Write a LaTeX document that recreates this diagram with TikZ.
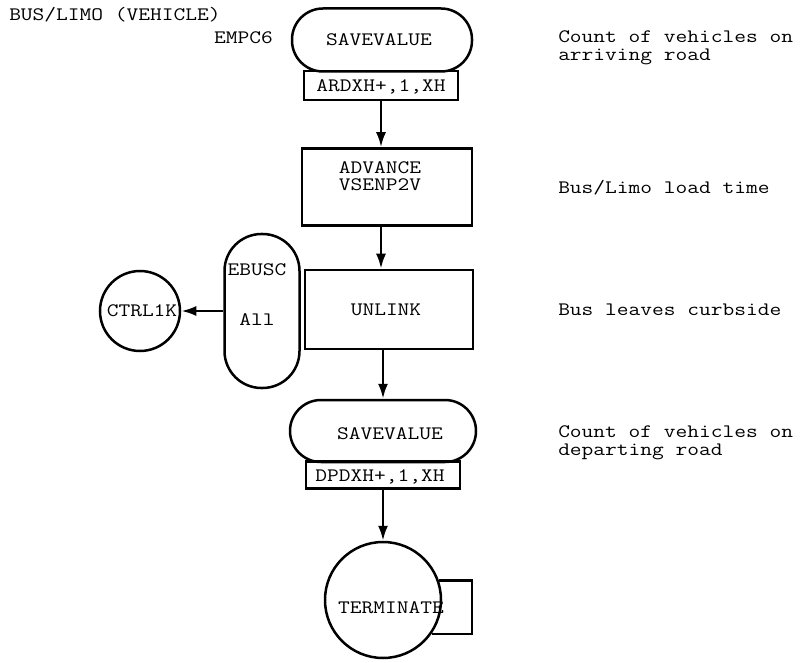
\documentclass[tikz,border=0pt]{standalone}
\usepackage{fontspec}
\usepackage{graphicx}
\usetikzlibrary{arrows.meta}
\newcommand\tw[1]{\scalebox{1.2}[1]{#1}}
\begin{document}
\begin{tikzpicture}[x=1pt,y=-1pt,
  line width=2.5pt,
  every node/.style={font=\fontsize{19}{15}\selectfont\ttfamily\addfontfeatures{FakeBold=1.2}, inner sep=0pt},
  stad/.style={draw, rounded corners=#1},
  boxn/.style={draw},
  txt/.style={anchor=base},
  lbl/.style={anchor=base west},
  arr/.style={-{Latex[length=15pt,width=10pt]}}]
\useasboundingbox (0,0) rectangle (804,663);

% header
\node[lbl] (title) at (8,21) {\tw{BUS/LIMO (VEHICLE)}};
\node[anchor=base east] (empc) at (274,44) {\tw{EMPC6}};

% top savevalue
\node[stad=31pt, minimum width=180pt, minimum height=63pt] (sv1) at (382,40) {};
\node[txt] (sv1t) at (379,46) {\tw{SAVEVALUE}};
\node[boxn, minimum width=154pt, minimum height=29pt] (ard) at (381,85.5) {};
\node[txt] (ardt) at (381,92) {\tw{ARDXH+,1,XH}};

% advance
\node[boxn, minimum width=170pt, minimum height=77pt] (adv) at (387,187) {};
\node[txt] (advt1) at (380,174) {\tw{ADVANCE}};
\node[txt] (advt2) at (380,191) {\tw{VSENP2V}};

% unlink
\node[boxn, minimum width=168pt, minimum height=79pt] (unl) at (389,309.5) {};
\node[txt] (unlt) at (386,316) {\tw{UNLINK}};

% EBUSC
\node[stad=37pt, minimum width=75pt, minimum height=154pt] (ebu) at (262,311) {};
\node[txt] (ebut1) at (257,276) {\tw{EBUSC}};
\node[txt] (ebut2) at (257,326) {\tw{All}};

% CTRL1K
\node[circle, draw, minimum size=80pt] (ctrl) at (140,311) {};
\node[txt] (ctrlt) at (142,317) {\tw{CTRL1K}};

% bottom savevalue
\node[stad=31pt, minimum width=186pt, minimum height=62pt] (sv2) at (383,431) {};
\node[txt] (sv2t) at (390,439) {\tw{SAVEVALUE}};
\node[boxn, minimum width=154pt, minimum height=27pt] (dp) at (383,475) {};
\node[txt] (dpt) at (380,481) {\tw{DPDXH+,1,XH}};

% terminate
\node[circle, draw, minimum size=116pt] (term) at (383,600) {};
\node[txt] (termt) at (391,613) {\tw{TERMINATE}};
\coordinate (rx) at (472,600);
\draw (term.19) -- (term.19 -| rx) -- (rx |- term.-35) -- (term.-35);

% arrows
\draw[arr] (ard.south) -- (ard.south |- adv.north);
\draw[arr] (adv.south -| ard.south) -- (ard.south |- unl.north);
\draw[arr] (unl.south -| dp.south) -- (sv2.north -| dp.south);
\draw[arr] (dp.south) -- (term.north);
\draw[arr] (ebu.west) -- (ctrl.east);

% comments
\node[lbl] (c1a) at (557,43) {\tw{Count of vehicles on}};
\node[lbl] (c1b) at (557,61) {\tw{arriving road}};
\node[lbl] (c2) at (557,194) {\tw{Bus/Limo load time}};
\node[lbl] (c3) at (557,316) {\tw{Bus leaves curbside}};
\node[lbl] (c4a) at (557,437) {\tw{Count of vehicles on}};
\node[lbl] (c4b) at (557,455) {\tw{departing road}};
\end{tikzpicture}
\end{document}
